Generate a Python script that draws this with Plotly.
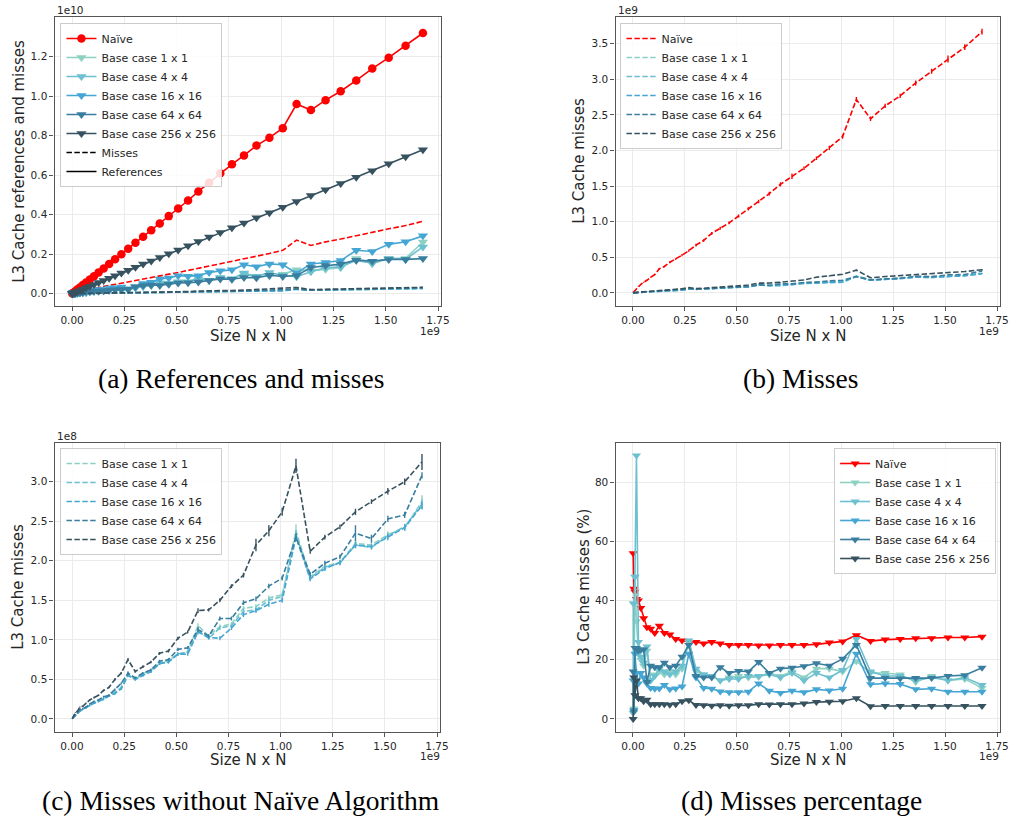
import numpy as np
import plotly.graph_objects as go

# ---------------------------------------------------------------- data
# Matrix side length N (the x axis shows N x N)
matrix_n = [1024, 2048, 3072, 4096, 5120, 6144, 7168, 8192, 9216, 10240,
            11264, 12288, 13312, 14336, 15360, 16384, 17408, 18432, 19456, 20480,
            21504, 22528, 23552, 24576, 25600, 26624, 27648, 28672, 29696, 30720,
            31744, 32768, 33792, 34816, 35840, 36864, 37888, 38912, 39936, 40960]

series_names = ["Naïve", "Base case 1 x 1", "Base case 4 x 4", "Base case 16 x 16",
                "Base case 64 x 64", "Base case 256 x 256"]

# L3 cache references (units of 1e10)
naive_refs = [0.0009, 0.0036, 0.008, 0.0143, 0.0223, 0.032, 0.044, 0.057, 0.072, 0.089,
              0.108, 0.128, 0.151, 0.175, 0.2, 0.228, 0.258, 0.289, 0.322, 0.356,
              0.393, 0.432, 0.472, 0.518, 0.562, 0.61, 0.655, 0.70, 0.75, 0.79,
              0.838, 0.96, 0.93, 0.98, 1.025, 1.08, 1.14, 1.195, 1.255, 1.32]
bc1_refs = [0.0001, 0.0034, 0.0006, 0.0015, 0.0032, 0.005, 0.0067, 0.0061, 0.0131, 0.0133,
            0.0138, 0.0173, 0.0188, 0.0227, 0.0235, 0.0223, 0.0313, 0.038, 0.0428, 0.0538,
            0.0529, 0.0566, 0.0607, 0.0831, 0.0677, 0.0807, 0.075, 0.1, 0.0835, 0.09,
            0.0981, 0.122, 0.116, 0.1245, 0.132, 0.178, 0.152, 0.179, 0.179, 0.262]
bc4_refs = [0.0015, 0.0003, 0.0006, 0.0006, 0.0027, 0.0048, 0.0063, 0.0057, 0.0131, 0.0138,
            0.0129, 0.0156, 0.0193, 0.0206, 0.0217, 0.0211, 0.0294, 0.0373, 0.0414, 0.0538,
            0.0533, 0.0607, 0.0586, 0.0772, 0.068, 0.0821, 0.0761, 0.1046, 0.089, 0.107,
            0.094, 0.0863, 0.111, 0.132, 0.136, 0.169, 0.155, 0.178, 0.174, 0.237]
bc16_refs = [0.0002, 0.004, 0.0014, 0.0032, 0.0058, 0.0065, 0.0086, 0.0117, 0.0162, 0.0196,
             0.0214, 0.0217, 0.029, 0.031, 0.0345, 0.025, 0.0357, 0.0524, 0.0588, 0.0753,
             0.08, 0.0911, 0.0891, 0.0917, 0.108, 0.116, 0.121, 0.147, 0.137, 0.151,
             0.147, 0.105, 0.151, 0.158, 0.168, 0.22, 0.214, 0.25, 0.263, 0.293]
bc64_refs = [0.0002, 0.006, 0.0017, 0.0025, 0.0035, 0.0051, 0.0055, 0.012, 0.0106, 0.0126,
             0.0137, 0.0147, 0.0171, 0.0206, 0.0214, 0.0232, 0.0359, 0.0414, 0.0443, 0.0417,
             0.0484, 0.0543, 0.0563, 0.0589, 0.0677, 0.0747, 0.0734, 0.0826, 0.0809, 0.0933,
             0.0877, 0.092, 0.133, 0.143, 0.150, 0.170, 0.165, 0.174, 0.174, 0.178]
bc256_refs = [0.0005, 0.0019, 0.0042, 0.0075, 0.0117, 0.017, 0.0228, 0.030, 0.038, 0.047,
              0.057, 0.067, 0.079, 0.091, 0.105, 0.119, 0.134, 0.150, 0.166, 0.184,
              0.203, 0.222, 0.243, 0.265, 0.287, 0.310, 0.334, 0.358, 0.385, 0.410,
              0.438, 0.467, 0.497, 0.527, 0.558, 0.590, 0.623, 0.658, 0.693, 0.729]

# L3 cache misses: Naïve in units of 1e9, base cases in units of 1e8
naive_miss = [0.005, 0.0158, 0.0344, 0.058, 0.089, 0.12, 0.15, 0.177, 0.22, 0.258,
              0.34, 0.371, 0.43, 0.473, 0.53, 0.593, 0.671, 0.737, 0.837, 0.908,
              0.983, 1.08, 1.18, 1.285, 1.394, 1.525, 1.638, 1.75, 1.89, 2.038,
              2.196, 2.717, 2.446, 2.626, 2.768, 2.948, 3.112, 3.286, 3.451, 3.67]
bc1_miss = [0.003, 0.012, 0.03, 0.05, 0.07, 0.1, 0.12, 0.14, 0.17, 0.2,
            0.22, 0.26, 0.3, 0.34, 0.4, 0.58, 0.5, 0.57, 0.62, 0.7,
            0.74, 0.82, 0.85, 1.18, 1.05, 1.17, 1.2, 1.4, 1.42, 1.53,
            1.57, 2.38, 1.8, 1.93, 1.98, 2.22, 2.2, 2.33, 2.42, 2.75]
bc4_miss = [0.003, 0.012, 0.03, 0.05, 0.07, 0.1, 0.12, 0.14, 0.17, 0.2,
            0.22, 0.25, 0.29, 0.33, 0.39, 0.56, 0.5, 0.56, 0.6, 0.7,
            0.72, 0.82, 0.85, 1.12, 1.02, 1.15, 1.18, 1.36, 1.38, 1.5,
            1.55, 2.33, 1.78, 1.92, 1.97, 2.2, 2.17, 2.32, 2.43, 2.72]
bc16_miss = [0.003, 0.012, 0.03, 0.05, 0.07, 0.1, 0.12, 0.14, 0.17, 0.2,
             0.22, 0.25, 0.29, 0.32, 0.38, 0.55, 0.5, 0.55, 0.6, 0.7,
             0.72, 0.82, 0.82, 1.1, 1.03, 1.02, 1.15, 1.32, 1.37, 1.45,
             1.5, 2.3, 1.77, 1.9, 1.98, 2.2, 2.18, 2.3, 2.42, 2.7]
bc64_miss = [0.003, 0.015, 0.04, 0.06, 0.08, 0.12, 0.13, 0.15, 0.19, 0.22,
             0.24, 0.28, 0.3, 0.37, 0.45, 0.58, 0.52, 0.58, 0.62, 0.73,
             0.75, 0.88, 0.9, 1.13, 1.05, 1.27, 1.27, 1.47, 1.52, 1.68,
             1.78, 2.3, 1.83, 1.97, 2.05, 2.35, 2.28, 2.53, 2.58, 3.08]
bc256_miss = [0.003, 0.02, 0.05, 0.08, 0.1, 0.15, 0.16, 0.2, 0.24, 0.27,
              0.3, 0.36, 0.4, 0.5, 0.58, 0.75, 0.6, 0.66, 0.72, 0.83,
              0.86, 1.02, 1.1, 1.37, 1.38, 1.5, 1.68, 1.82, 2.2, 2.38,
              2.62, 3.2, 2.12, 2.3, 2.43, 2.62, 2.75, 2.88, 3.0, 3.25]

# Standard deviation of the misses (same units as the misses)
naive_miss_err = [0.001, 0.002, 0.002, 0.003, 0.004, 0.005, 0.006, 0.006, 0.008, 0.008,
                  0.01, 0.01, 0.012, 0.012, 0.015, 0.015, 0.018, 0.018, 0.02, 0.02,
                  0.02, 0.022, 0.022, 0.025, 0.025, 0.03, 0.04, 0.025, 0.025, 0.03,
                  0.03, 0.035, 0.03, 0.03, 0.03, 0.035, 0.035, 0.05, 0.04, 0.04]
bc1_miss_err = [0.001, 0.002, 0.003, 0.004, 0.005, 0.006, 0.007, 0.008, 0.01, 0.01,
                0.01, 0.012, 0.012, 0.014, 0.015, 0.02, 0.015, 0.015, 0.015, 0.018,
                0.018, 0.02, 0.02, 0.03, 0.02, 0.025, 0.025, 0.03, 0.03, 0.03,
                0.03, 0.08, 0.03, 0.03, 0.03, 0.04, 0.03, 0.04, 0.04, 0.08]
bc4_miss_err = [0.001, 0.002, 0.003, 0.004, 0.005, 0.006, 0.007, 0.008, 0.01, 0.01,
                0.01, 0.012, 0.012, 0.014, 0.015, 0.02, 0.015, 0.015, 0.015, 0.018,
                0.018, 0.02, 0.02, 0.05, 0.02, 0.025, 0.025, 0.03, 0.03, 0.03,
                0.03, 0.06, 0.03, 0.03, 0.03, 0.04, 0.03, 0.04, 0.04, 0.06]
bc16_miss_err = [0.001, 0.002, 0.003, 0.004, 0.005, 0.006, 0.007, 0.008, 0.01, 0.01,
                 0.01, 0.012, 0.012, 0.014, 0.015, 0.02, 0.015, 0.015, 0.015, 0.018,
                 0.018, 0.02, 0.02, 0.03, 0.02, 0.025, 0.025, 0.03, 0.03, 0.03,
                 0.03, 0.05, 0.03, 0.03, 0.03, 0.04, 0.03, 0.04, 0.04, 0.05]
bc64_miss_err = [0.001, 0.002, 0.003, 0.004, 0.005, 0.006, 0.007, 0.008, 0.01, 0.01,
                 0.01, 0.012, 0.012, 0.014, 0.015, 0.02, 0.015, 0.015, 0.015, 0.018,
                 0.018, 0.02, 0.02, 0.03, 0.02, 0.025, 0.025, 0.03, 0.03, 0.03,
                 0.03, 0.05, 0.03, 0.03, 0.03, 0.1, 0.05, 0.04, 0.04, 0.04]
bc256_miss_err = [0.001, 0.002, 0.003, 0.004, 0.005, 0.006, 0.007, 0.008, 0.01, 0.01,
                  0.01, 0.012, 0.012, 0.014, 0.015, 0.02, 0.015, 0.015, 0.015, 0.018,
                  0.018, 0.02, 0.02, 0.03, 0.02, 0.025, 0.025, 0.03, 0.08, 0.07,
                  0.05, 0.09, 0.03, 0.03, 0.03, 0.04, 0.03, 0.04, 0.04, 0.1]

# L3 cache miss rate (%)
naive_pct = [56, 44, 43, 40.5, 40, 37.5, 34, 31, 30.5, 29,
             31.5, 29, 28.5, 27, 26.5, 26, 26, 25.5, 26, 25.5,
             25, 25, 25, 24.8, 24.8, 25, 25, 25, 25.2, 25.8,
             26.2, 28.3, 26.3, 26.8, 27, 27.3, 27.3, 27.5, 27.5, 27.8]
bc1_pct = [39, 3.5, 48, 33, 22, 20, 18, 23, 13, 15,
           16, 15, 16, 15, 17, 26, 16, 15, 14.5, 13,
           14, 14.5, 14, 14.2, 15.5, 14.5, 16, 14, 17, 17,
           16, 19.5, 15.5, 15.5, 15, 12.5, 14.5, 13, 13.5, 10.5]
bc4_pct = [2, 39, 48, 89, 26, 21, 19, 24.5, 13, 14.5,
           17, 16, 15, 16, 18, 26.5, 17, 15, 14.5, 13,
           13.5, 13.5, 14.5, 14.5, 15, 14, 15.5, 13, 15.5, 14,
           16.5, 27, 16, 14.5, 14.5, 13, 14, 13, 14, 11.5]
bc16_pct = [13, 3, 22, 15.5, 12, 15.5, 14, 12, 10.5, 10.2,
            10.3, 11.5, 10, 10.3, 11, 22, 14, 10.5, 10.2, 9.3,
            9, 9, 9.2, 12, 9.5, 8.8, 9.5, 9, 10, 9.6,
            10.2, 22, 11.7, 12, 11.8, 10, 10.2, 9.2, 9.2, 9.2]
bc64_pct = [16, 2.5, 24, 24, 23, 23.5, 23.5, 12.5, 18, 17.5,
            17.5, 19, 17.5, 18, 21, 25, 14.5, 14, 14, 17.5,
            15.5, 16.2, 16, 19.2, 15.5, 17, 17.3, 17.8, 18.8, 18,
            20.3, 25, 13.8, 13.8, 13.7, 13.8, 13.8, 14.5, 14.8, 17.3]
bc256_pct = [0, 14, 8, 13, 7, 7, 6, 6.5, 5, 5,
             5, 5, 4.8, 5, 6, 6.3, 4.7, 4.6, 4.5, 4.6,
             4.5, 4.6, 4.6, 5, 4.9, 5, 5, 5.2, 5.7, 5.8,
             6, 7, 4.3, 4.4, 4.4, 4.4, 4.4, 4.4, 4.4, 4.4]

colors = ["#ff0000", "#8ed1c3", "#6cc0cf", "#45a6d4", "#3a7e9f", "#37525f"]

x_ticks = [0.0, 0.25, 0.5, 0.75, 1.0, 1.25, 1.5, 1.75]          # x 1e9
refs_ticks = [0.0, 0.2, 0.4, 0.6, 0.8, 1.0, 1.2]                  # x 1e10
miss_ticks = [0.0, 0.5, 1.0, 1.5, 2.0, 2.5, 3.0, 3.5]             # x 1e9
bc_miss_ticks = [0.0, 0.5, 1.0, 1.5, 2.0, 2.5, 3.0]               # x 1e8
pct_ticks = [0, 20, 40, 60, 80]

# ---------------------------------------------------------------- build
size = np.array(matrix_n, dtype=float) ** 2

refs = [naive_refs, bc1_refs, bc4_refs, bc16_refs, bc64_refs, bc256_refs]
misses = [naive_miss, bc1_miss, bc4_miss, bc16_miss, bc64_miss, bc256_miss]
miss_err = [naive_miss_err, bc1_miss_err, bc4_miss_err, bc16_miss_err,
            bc64_miss_err, bc256_miss_err]
pcts = [naive_pct, bc1_pct, bc4_pct, bc16_pct, bc64_pct, bc256_pct]
miss_scale = [1e9, 1e8, 1e8, 1e8, 1e8, 1e8]

W, H = 1017, 820
LW = 1.6
DASH = "5.5px,2.4px"
SANS = "DejaVu Sans, Liberation Sans, sans-serif"
SERIF = "Liberation Serif, DejaVu Serif, serif"
TXT = "#262626"

fig = go.Figure()

# (a) references (solid) and misses (dashed)
for i, name in enumerate(series_names):
    c = colors[i]
    fig.add_trace(go.Scatter(
        x=size, y=np.array(refs[i]) * 1e10, name=name, mode="lines+markers",
        line=dict(color=c, width=LW),
        marker=dict(symbol="circle" if i == 0 else "triangle-down",
                    size=8.5 if i == 0 else 9, color=c),
        xaxis="x", yaxis="y", legend="legend"))
    fig.add_trace(go.Scatter(
        x=size, y=np.array(misses[i]) * miss_scale[i], mode="lines",
        line=dict(color=c, width=LW, dash=DASH), showlegend=False,
        xaxis="x", yaxis="y"))
fig.add_trace(go.Scatter(x=[None], y=[None], name="Misses", mode="lines",
                         line=dict(color="black", width=LW, dash=DASH),
                         xaxis="x", yaxis="y", legend="legend"))
fig.add_trace(go.Scatter(x=[None], y=[None], name="References", mode="lines",
                         line=dict(color="black", width=LW),
                         xaxis="x", yaxis="y", legend="legend"))

# (b) misses, all algorithms; (c) misses, base cases only
for i, name in enumerate(series_names):
    c = colors[i]
    for ax, lg in (("2", "legend2"), ("3", "legend3")):
        if ax == "3" and i == 0:
            continue
        fig.add_trace(go.Scatter(
            x=size, y=np.array(misses[i]) * miss_scale[i], name=name, mode="lines",
            line=dict(color=c, width=LW, dash=DASH),
            error_y=dict(type="data", array=np.array(miss_err[i]) * miss_scale[i],
                         color=c, thickness=1.4, width=0),
            xaxis="x" + ax, yaxis="y" + ax, legend=lg))

# (d) miss percentage
for i, name in enumerate(series_names):
    c = colors[i]
    fig.add_trace(go.Scatter(
        x=size, y=pcts[i], name=name, mode="lines+markers",
        line=dict(color=c, width=LW),
        marker=dict(symbol="triangle-down", size=8, color=c),
        xaxis="x4", yaxis="y4", legend="legend4"))

# ---------------------------------------------------------------- axes
panels = {"": (55, 445, 17, 306), "2": (621, 1009, 17, 306),
          "3": (55, 444, 443, 732), "4": (621, 1009, 443, 732)}
y_setup = {
    "": ([-0.062e10, 1.401e10], [v * 1e10 for v in refs_ticks], [f"{v:.1f}" for v in refs_ticks]),
    "2": ([-0.184e9, 3.875e9], [v * 1e9 for v in miss_ticks], [f"{v:.1f}" for v in miss_ticks]),
    "3": ([-0.165e8, 3.49e8], [v * 1e8 for v in bc_miss_ticks], [f"{v:.1f}" for v in bc_miss_ticks]),
    "4": ([-4.4, 93.2], pct_ticks, [str(v) for v in pct_ticks]),
}
axis_common = dict(showline=True, linecolor="#555555", linewidth=1.2, mirror=True,
                   ticks="outside", ticklen=4, tickwidth=1, tickcolor="#555555",
                   showgrid=True, gridcolor="#ebebeb", gridwidth=1, zeroline=False,
                   tickfont=dict(family=SANS, size=10.5, color=TXT))
layout_axes = {}
for key, (x0, x1, y0, y1) in panels.items():
    yr, yv, yt = y_setup[key]
    layout_axes["xaxis" + key] = dict(
        domain=[x0 / W, x1 / W], anchor="y" + key, range=[-0.0839e9, 1.7645e9],
        tickmode="array", tickvals=[v * 1e9 for v in x_ticks],
        ticktext=[f"{v:.2f}" for v in x_ticks], **axis_common)
    layout_axes["yaxis" + key] = dict(
        domain=[1 - y1 / H, 1 - y0 / H], anchor="x" + key, range=yr,
        tickmode="array", tickvals=yv, ticktext=yt, **axis_common)

legend_style = dict(font=dict(family=SANS, size=11, color=TXT),
                    bgcolor="rgba(255,255,255,0.85)", bordercolor="#cccccc",
                    borderwidth=1, tracegroupgap=0, itemwidth=30)

# ---------------------------------------------------------------- text
def label(text, x, y, size=15, family=SANS, angle=0, xanchor="center", color=TXT):
    return dict(text=text, x=x / W, y=1 - y / H, xref="paper", yref="paper",
                showarrow=False, textangle=angle, xanchor=xanchor, yanchor="middle",
                font=dict(family=family, size=size, color=color))

CAP = 27.5
annotations = [
    label("L3 Cache references and misses", 19, 161, angle=-90),
    label("L3 Cache misses", 584, 161, angle=-90),
    label("L3 Cache misses", 18, 587, angle=-90),
    label("L3 Cache misses (%)", 589, 587, angle=-90),
    label("Size N x N", 250, 336), label("Size N x N", 815, 336),
    label("Size N x N", 250, 760), label("Size N x N", 815, 760),
    label("1e9", 434, 331, size=10.5), label("1e9", 998, 331, size=10.5),
    label("1e9", 434, 756, size=10.5), label("1e9", 998, 756, size=10.5),
    label("1e10", 55, 10, size=10.5, xanchor="left"),
    label("1e9", 621, 10, size=10.5, xanchor="left"),
    label("1e8", 55, 436, size=10.5, xanchor="left"),
    label("(a) References and misses", 243, 378, size=CAP, family=SERIF, color="black"),
    label("(b) Misses", 808, 378, size=CAP, family=SERIF, color="black"),
    label("(c) Misses without Naïve Algorithm", 243, 800, size=CAP, family=SERIF, color="black"),
    label("(d) Misses percentage", 809, 800, size=CAP, family=SERIF, color="black"),
]

fig.update_layout(
    width=W, height=H, margin=dict(l=0, r=0, t=0, b=0),
    paper_bgcolor="white", plot_bgcolor="white",
    annotations=annotations,
    legend=dict(x=61 / W, y=1 - 23 / H, xanchor="left", yanchor="top", **legend_style),
    legend2=dict(x=626 / W, y=1 - 23 / H, xanchor="left", yanchor="top", **legend_style),
    legend3=dict(x=61 / W, y=1 - 448 / H, xanchor="left", yanchor="top", **legend_style),
    legend4=dict(x=1005 / W, y=1 - 448 / H, xanchor="right", yanchor="top", **legend_style),
    **layout_axes,
)

fig.write_html("out.html", config={"displayModeBar": False})
